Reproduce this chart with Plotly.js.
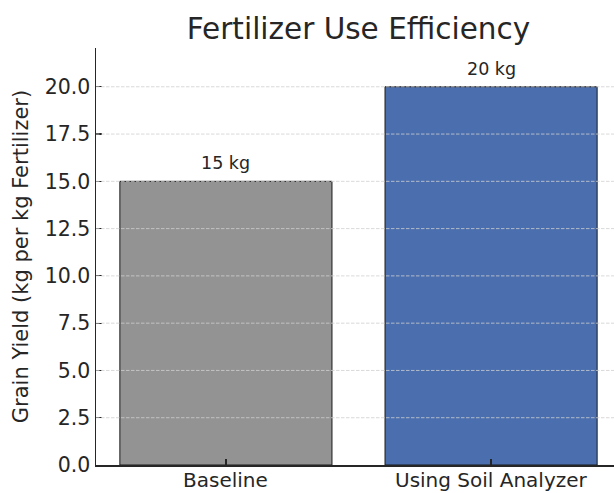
<!DOCTYPE html>
<html>
<head>
<meta charset="utf-8">
<script src="https://cdn.plot.ly/plotly-3.0.1.min.js"></script>
<style>
html, body { margin: 0; padding: 0; overflow: hidden; background: #fff; }
#chart { width: 640px; height: 493px; }
</style>
</head>
<body>
<div id="chart"></div>
<script>
const categories = ["Baseline", "Using Soil Analyzer"];
const yields = [15, 20];
const barLabels = ["15 kg", "20 kg"];
const barColors = ["#939393", "#4a6eae"];
const yTickVals = [0, 2.5, 5, 7.5, 10, 12.5, 15, 17.5, 20];
const yTickText = ["0.0", "2.5", "5.0", "7.5", "10.0", "12.5", "15.0", "17.5", "20.0"];

const font = "DejaVu Sans, sans-serif";
const textColor = "#262626";

const trace = {
  type: "bar",
  x: [0, 1],
  y: yields,
  width: 0.8,
  marker: { color: barColors, line: { color: "#1a1a1a", width: 1 } },
  hoverinfo: "skip"
};

const valueLabels = categories.map((c, i) => ({
  x: i, y: yields[i], xref: "x", yref: "y",
  text: barLabels[i], showarrow: false,
  yanchor: "bottom", yshift: 6,
  font: { family: font, size: 17.5, color: textColor }
}));

const categoryLabels = categories.map((c, i) => ({
  x: i, y: 0, xref: "x", yref: "paper",
  text: c, showarrow: false, borderpad: 0,
  yanchor: "top", yshift: -2,
  font: { family: font, size: 20, color: textColor }
}));

const gridShapes = yTickVals.filter(v => v > 0).map(v => ({
  type: "line", xref: "paper", yref: "y",
  x0: 0, x1: 1, y0: v, y1: v, layer: "above",
  line: { color: "#cfcfcf", width: 0.8, dash: "3.5px,1.5px" }
}));

const layout = {
  width: 640, height: 493,
  margin: { l: 96, r: 19, t: 48, b: 28, pad: 0 },
  paper_bgcolor: "#ffffff", plot_bgcolor: "#ffffff",
  showlegend: false,
  title: {
    text: "Fertilizer Use Efficiency",
    x: 358.5 / 640, xanchor: "center",
    y: 1 - 29 / 493, yanchor: "middle",
    font: { family: font, size: 29.5, color: textColor }
  },
  xaxis: {
    range: [-0.49, 1.49],
    tickvals: [0, 1], showticklabels: false,
    showgrid: false, zeroline: false,
    showline: true, linecolor: textColor, linewidth: 1.5,
    ticks: "inside", ticklen: 6, tickwidth: 1.2, tickcolor: textColor,
    fixedrange: true
  },
  yaxis: {
    range: [0, 22.05],
    tickvals: yTickVals, ticktext: yTickText,
    showgrid: false, zeroline: false,
    showline: true, linecolor: textColor, linewidth: 1.5,
    ticks: "inside", ticklen: 6, tickwidth: 1.2, tickcolor: textColor,
    tickfont: { family: font, size: 20.5, color: textColor },
    title: { text: "Grain Yield (kg per kg Fertilizer)", standoff: 10,
             font: { family: font, size: 21, color: textColor } },
    fixedrange: true
  },
  shapes: gridShapes,
  annotations: valueLabels.concat(categoryLabels)
};

Plotly.newPlot("chart", [trace], layout, { displayModeBar: false, staticPlot: true });
</script>
</body>
</html>
